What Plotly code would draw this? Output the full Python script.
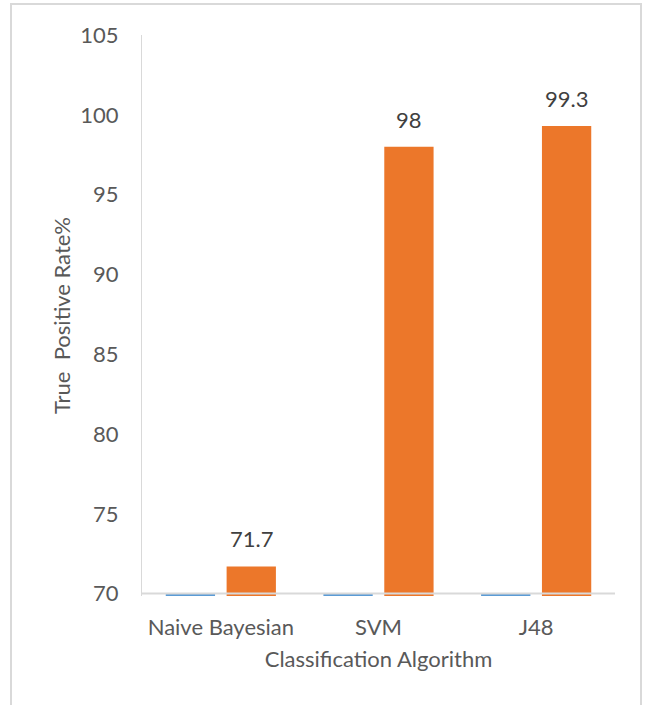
import plotly.graph_objects as go

categories = ["Naive Bayesian", "SVM", "J48"]
tpr_values = [71.7, 98, 99.3]
baseline_series = [70, 70, 70]
tick_vals = [70, 75, 80, 85, 90, 95, 100, 105]

FONT = "Lato, Carlito, 'Liberation Sans', sans-serif"
TXT = "#595959"
FS = 22

fig = go.Figure()
fig.add_trace(go.Bar(
    x=categories, y=baseline_series, marker=dict(color="#5B9BD5", line=dict(width=0)),
    offsetgroup="a", showlegend=False, hoverinfo="skip",
))
fig.add_trace(go.Bar(
    x=categories, y=tpr_values, marker=dict(color="#EC772A", line=dict(width=0)),
    offsetgroup="b", showlegend=False,
))

W, H = 646, 705
ml, mr, mt, mb = 142, 31, 35, 109
pw, ph = W - ml - mr, H - mt - mb

def px_x(p):
    return (p - ml) / pw

def px_y(p):
    return (H - mb - p) / ph

annotations = []
for i, (c, v) in enumerate(zip(categories, tpr_values)):
    annotations.append(dict(
        x=i + 0.195, y=v, xref="x", yref="y", text=f"{v:g}", showarrow=False,
        yanchor="bottom", yshift=12, font=dict(size=FS, color="#404040", family=FONT),
    ))

fig.update_layout(
    width=W, height=H,
    margin=dict(l=ml, r=mr, t=mt, b=mb, pad=0),
    paper_bgcolor="white", plot_bgcolor="white",
    barmode="group", bargap=0.228, bargroupgap=0.19,
    font=dict(family=FONT, color=TXT, size=FS),
    annotations=annotations,
    xaxis=dict(
        showgrid=False, showline=False, ticks="", tickfont=dict(size=FS, color=TXT),
        ticklabelstandoff=16,
        title=dict(text="Classification Algorithm", font=dict(size=FS, color=TXT), standoff=12),
    ),
    yaxis=dict(
        range=[69.85, 105], tickvals=tick_vals, showgrid=False, zeroline=False,
        showline=True, linecolor="#d9d9d9", linewidth=1, ticks="",
        ticklabelstandoff=18, tickfont=dict(size=FS, color=TXT),
        title=dict(text="True\u00a0 Positive Rate%", font=dict(size=FS, color=TXT), standoff=3),
    ),
    shapes=[
        dict(type="line", xref="paper", yref="y", x0=0, x1=1, y0=70, y1=70,
             line=dict(color="#d9d9d9", width=2), layer="above"),
        dict(type="rect", xref="paper", yref="paper",
             x0=px_x(11), x1=px_x(641), y0=px_y(715), y1=px_y(4),
             line=dict(color="#d9d9d9", width=2), layer="below"),
    ],
)

fig.write_html("out.html")
